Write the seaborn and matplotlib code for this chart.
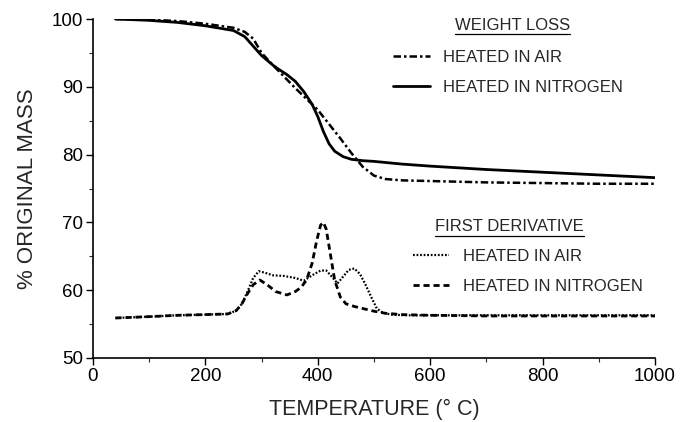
import numpy as np
import pandas as pd
import matplotlib
matplotlib.use("Agg")
import matplotlib.pyplot as plt
from matplotlib.lines import Line2D
import seaborn as sns

# ---- data ----
temp_wl_air = [40, 100, 150, 200, 250, 270, 285, 300, 320, 340, 360, 380, 400, 420, 440, 460, 480, 500, 520, 550, 600, 700, 800, 900, 1000]
wl_air = [100, 99.9, 99.7, 99.3, 98.7, 98.1, 97.1, 95.0, 93.2, 91.5, 89.8, 88.2, 86.6, 84.5, 82.4, 80.2, 78.2, 76.9, 76.4, 76.2, 76.1, 75.9, 75.8, 75.7, 75.7]

temp_wl_n2 = [40, 100, 150, 200, 250, 270, 285, 300, 320, 330, 345, 360, 375, 390, 400, 410, 420, 430, 445, 460, 480, 500, 550, 600, 700, 800, 900, 1000]
wl_n2 = [100, 99.8, 99.5, 99.0, 98.3, 97.4, 96.0, 94.6, 93.2, 92.6, 91.8, 90.8, 89.3, 87.4, 85.6, 83.4, 81.6, 80.5, 79.7, 79.3, 79.1, 79.0, 78.6, 78.3, 77.8, 77.4, 77.0, 76.6]

temp_d_air = [40, 100, 150, 200, 240, 255, 265, 275, 285, 295, 305, 320, 340, 360, 375, 390, 405, 415, 425, 435, 445, 455, 465, 475, 485, 495, 505, 515, 530, 560, 600, 700, 800, 900, 1000]
d_air = [55.9, 56.1, 56.3, 56.4, 56.5, 57.0, 58.0, 59.8, 61.8, 62.8, 62.6, 62.2, 62.1, 61.8, 61.4, 62.2, 62.9, 62.9, 62.0, 61.0, 62.0, 63.0, 63.2, 62.4, 60.8, 59.0, 57.3, 56.7, 56.4, 56.3, 56.3, 56.3, 56.3, 56.3, 56.3]

temp_d_n2 = [40, 100, 150, 200, 240, 255, 265, 275, 285, 297, 310, 325, 345, 360, 370, 380, 390, 398, 405, 410, 415, 422, 430, 440, 450, 465, 480, 500, 520, 550, 600, 700, 800, 900, 1000]
d_n2 = [55.9, 56.1, 56.3, 56.4, 56.5, 57.0, 58.0, 59.5, 60.8, 61.5, 60.8, 59.8, 59.3, 59.8, 60.4, 61.5, 64.0, 67.3, 69.6, 70.0, 69.0, 65.5, 61.5, 59.0, 58.0, 57.6, 57.3, 56.9, 56.6, 56.4, 56.3, 56.2, 56.2, 56.2, 56.2]

x_ticks = [0, 200, 400, 600, 800, 1000]
y_ticks = [50, 60, 70, 80, 90, 100]
wl_labels = ["HEATED IN AIR", "HEATED IN NITROGEN"]
d_labels = ["HEATED IN AIR", "HEATED IN NITROGEN"]

# ---- style ----
sns.set_style("ticks")
plt.rcParams['font.family'] = ['Liberation Sans', 'DejaVu Sans']

fig = plt.figure(figsize=(6.82, 4.22), dpi=100)
ax = fig.add_axes([93 / 682, 1 - 358 / 422, 562 / 682, 339 / 422])

df_wa = pd.DataFrame({"T": temp_wl_air, "v": wl_air})
df_wn = pd.DataFrame({"T": temp_wl_n2, "v": wl_n2})
df_da = pd.DataFrame({"T": temp_d_air, "v": d_air})
df_dn = pd.DataFrame({"T": temp_d_n2, "v": d_n2})

sns.lineplot(data=df_wa, x="T", y="v", ax=ax, color="black", lw=1.8,
             dashes=False, estimator=None)
sns.lineplot(data=df_wn, x="T", y="v", ax=ax, color="black", lw=2.0,
             estimator=None)
sns.lineplot(data=df_da, x="T", y="v", ax=ax, color="black", lw=1.6,
             estimator=None)
sns.lineplot(data=df_dn, x="T", y="v", ax=ax, color="black", lw=2.0,
             estimator=None)

ls_air_wl = (0, (3.0, 1.2, 1.0, 1.2))
ls_air_d = (0, (0.8, 0.8))
ls_n2_d = (0, (2.2, 1.4))
lines = ax.get_lines()
lines[0].set_linestyle(ls_air_wl)
lines[1].set_linestyle("-")
lines[2].set_linestyle(ls_air_d)
lines[3].set_linestyle(ls_n2_d)

ax.set_xlim(0, 1000)
ax.set_ylim(50, 100)
ax.set_xticks(x_ticks)
ax.set_yticks(y_ticks)
ax.set_xticks(np.arange(100, 1000, 200), minor=True)
ax.set_yticks(np.arange(55, 100, 10), minor=True)
ax.tick_params(axis="both", which="major", labelsize=13.5, length=5, width=1, direction="out", pad=2, colors="black")
ax.tick_params(axis="both", which="minor", length=3, width=0.8, direction="out")
for s in ["top", "right"]:
    ax.spines[s].set_visible(False)
for s in ["left", "bottom"]:
    ax.spines[s].set_linewidth(1.2)
    ax.spines[s].set_color("black")

ax.set_xlabel("TEMPERATURE (° C)", fontsize=15.5, labelpad=10)
ax.set_ylabel("% ORIGINAL MASS", fontsize=16, labelpad=10)

# ---- legends ----
leg_fs = 12
h1 = [Line2D([], [], color="black", lw=1.8, linestyle=ls_air_wl),
      Line2D([], [], color="black", lw=2.0, linestyle="-")]
leg1 = ax.legend(h1, wl_labels, loc="upper left", bbox_to_anchor=(0.534, 0.91),
                 frameon=False, fontsize=leg_fs, handlelength=2.2, handletextpad=0.8,
                 labelspacing=0.9, borderpad=0, borderaxespad=0)
ax.add_artist(leg1)
h2 = [Line2D([], [], color="black", lw=1.6, linestyle=ls_air_d),
      Line2D([], [], color="black", lw=2.0, linestyle=ls_n2_d)]
leg2 = ax.legend(h2, d_labels, loc="upper left", bbox_to_anchor=(0.569, 0.322),
                 frameon=False, fontsize=leg_fs, handlelength=2.2, handletextpad=0.8,
                 labelspacing=0.9, borderpad=0, borderaxespad=0)

t1 = ax.text(0.644, 0.982, "WEIGHT LOSS", transform=ax.transAxes, fontsize=leg_fs,
             ha="left", va="center")
t2 = ax.text(0.609, 0.387, "FIRST DERIVATIVE", transform=ax.transAxes, fontsize=leg_fs,
             ha="left", va="center")
fig.canvas.draw()
inv = ax.transAxes.inverted()
for t in (t1, t2):
    bb = t.get_window_extent()
    (x0, y0), (x1, y1) = inv.transform([[bb.x0, bb.y0], [bb.x1, bb.y1]])
    ax.add_line(Line2D([x0, x1], [y0 - 0.004, y0 - 0.004], transform=ax.transAxes,
                       color="black", lw=0.9, clip_on=False))

fig.savefig("out.png", dpi=100)
